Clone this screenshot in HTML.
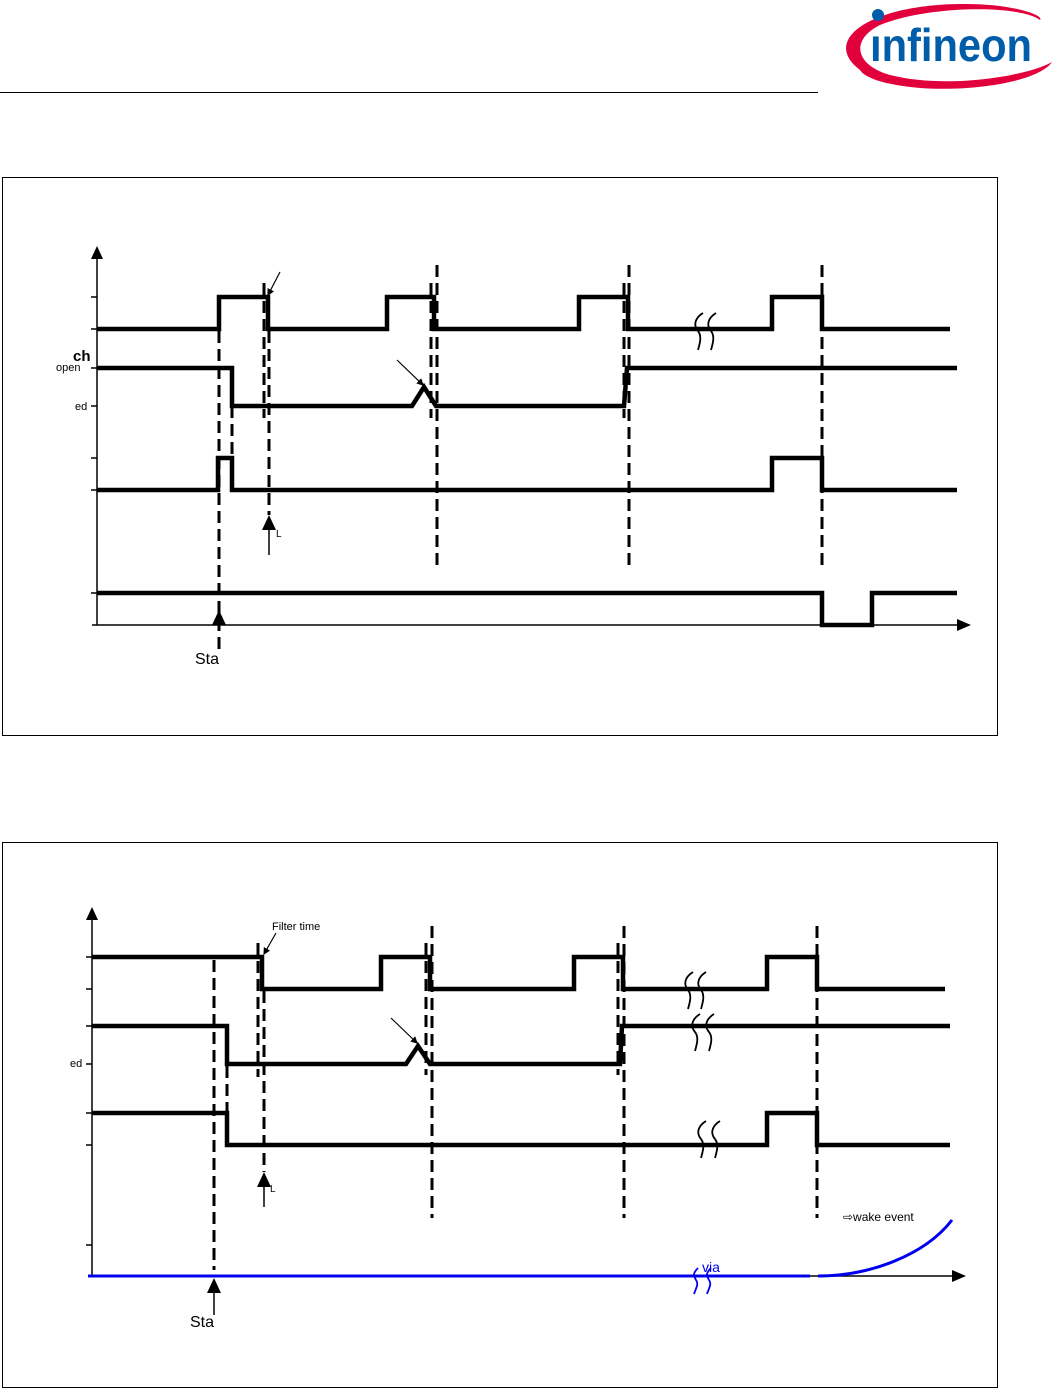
<!DOCTYPE html>
<html><head><meta charset="utf-8"><style>
body{margin:0;background:#fff;width:1062px;height:1388px;overflow:hidden}
svg{display:block}
text{font-family:"Liberation Sans",Arial,sans-serif}
</style></head><body>
<svg width="1062" height="1388" viewBox="0 0 1062 1388">
<defs><marker id="a" markerWidth="6" markerHeight="6" refX="5" refY="3" orient="auto"><path d="M0,0L6,3L0,6z"/></marker></defs>
<!-- header -->
<line x1="0" y1="92.5" x2="818" y2="92.5" stroke="#000" stroke-width="1"/>
<path d="M860,70 C820,40 870,5 960,4 C1010,3 1045,15 1040,20 C1020,5 930,5 880,25 C850,40 855,65 890,75 C950,90 1030,75 1052,62 C1040,80 980,92 920,88 C885,85 865,78 860,70z" fill="#e2003c"/>
<circle cx="878" cy="15" r="6" fill="#005da9"/>
<text x="870" y="61" font-size="46" fill="#005da9" font-weight="bold" textLength="162" lengthAdjust="spacingAndGlyphs" style="font-family:'Liberation Sans Narrow','Liberation Sans',sans-serif">ınfineon</text>

<!-- diagram 1 -->
<rect x="2.5" y="177.5" width="995" height="558" fill="none" stroke="#000"/>
<g stroke="#000" fill="none">
<line x1="97" y1="255" x2="97" y2="625" stroke-width="1.5"/>
<line x1="92" y1="625" x2="960" y2="625" stroke-width="1.5"/>
<g stroke-width="1.5"><line x1="91" y1="297" x2="97" y2="297"/><line x1="91" y1="329" x2="97" y2="329"/><line x1="91" y1="368" x2="97" y2="368"/><line x1="91" y1="406" x2="97" y2="406"/><line x1="91" y1="458" x2="97" y2="458"/><line x1="91" y1="490" x2="97" y2="490"/><line x1="91" y1="593" x2="97" y2="593"/></g>
<g stroke-width="4.5">
<polyline points="97,329 219,329 219,297 268,297 268,329 387,329 387,297 434,297 434,329 579,329 579,297 628,297 628,329 772,329 772,297 822,297 822,329 950,329"/>
<polyline points="97,368 232,368 232,406 412,406 424,387 436,406 624,406 627,368 957,368"/>
<polyline points="97,490 218,490 218,458 232,458 232,490 772,490 772,458 822,458 822,490 957,490"/>
<polyline points="97,593 822,593 822,625 872,625 872,593 957,593"/>
</g>
<g stroke-width="3" stroke-dasharray="12,6">
<line x1="219" y1="331" x2="219" y2="650"/>
<line x1="232" y1="370" x2="232" y2="458"/>
<line x1="264" y1="283" x2="264" y2="418"/>
<line x1="269" y1="331" x2="269" y2="515"/>
<line x1="431" y1="283" x2="431" y2="418"/>
<line x1="437" y1="265" x2="437" y2="565"/>
<line x1="624" y1="283" x2="624" y2="418"/>
<line x1="629" y1="265" x2="629" y2="565"/>
<line x1="822" y1="265" x2="822" y2="565"/>
</g>
<line x1="280" y1="272" x2="268" y2="295" stroke-width="1.2" marker-end="url(#a)"/>
<line x1="397" y1="360" x2="423" y2="385" stroke-width="1.2" marker-end="url(#a)"/>
<line x1="269" y1="530" x2="269" y2="555" stroke-width="1.5"/>
<path d="M703,313 c-8,5 -10,12 -5,18 c4,5 2,12 0,19 M716,313 c-8,5 -10,12 -5,18 c4,5 2,12 0,19" stroke-width="1.8"/>
</g>
<path d="M97,246 L91,259 L103,259z M971,625 L957,619 L957,631z M219,610 L212,625 L226,625z M269,515 L262,530 L276,530z"/>
<text x="73" y="361" font-size="15" font-weight="bold">ch</text>
<text x="56" y="371" font-size="11">open</text>
<text x="75" y="410" font-size="11">ed</text>
<text x="195" y="664" font-size="16">Sta</text>
<text x="276" y="537" font-size="10">L</text>

<!-- diagram 2 -->
<rect x="2.5" y="842.5" width="995" height="545" fill="none" stroke="#000"/>
<g stroke="#000" fill="none">
<line x1="92" y1="915" x2="92" y2="1276" stroke-width="1.5"/>
<line x1="810" y1="1276" x2="955" y2="1276" stroke-width="1.5"/>
<g stroke-width="1.5"><line x1="86" y1="957" x2="92" y2="957"/><line x1="86" y1="989" x2="92" y2="989"/><line x1="86" y1="1026" x2="92" y2="1026"/><line x1="86" y1="1064" x2="92" y2="1064"/><line x1="86" y1="1113" x2="92" y2="1113"/><line x1="86" y1="1145" x2="92" y2="1145"/><line x1="86" y1="1245" x2="92" y2="1245"/></g>
<g stroke-width="4.5">
<polyline points="92,957 262,957 262,989 381,989 381,957 430,957 430,989 574,989 574,957 623,957 623,989 767,989 767,957 817,957 817,989 945,989"/>
<polyline points="92,1026 227,1026 227,1064 406,1064 418,1046 430,1064 620,1064 622,1026 950,1026"/>
<polyline points="92,1113 227,1113 227,1145 767,1145 767,1113 817,1113 817,1145 950,1145"/>
</g>
<g stroke-width="3" stroke-dasharray="12,6">
<line x1="214" y1="960" x2="214" y2="1270"/>
<line x1="227" y1="1066" x2="227" y2="1145"/>
<line x1="258" y1="943" x2="258" y2="1077"/>
<line x1="264" y1="991" x2="264" y2="1172"/>
<line x1="426" y1="943" x2="426" y2="1075"/>
<line x1="432" y1="926" x2="432" y2="1218"/>
<line x1="618" y1="943" x2="618" y2="1075"/>
<line x1="624" y1="926" x2="624" y2="1218"/>
<line x1="817" y1="926" x2="817" y2="1218"/>
</g>
<line x1="276" y1="933" x2="264" y2="954" stroke-width="1.2" marker-end="url(#a)"/>
<line x1="391" y1="1018" x2="417" y2="1043" stroke-width="1.2" marker-end="url(#a)"/>
<line x1="264" y1="1187" x2="264" y2="1207" stroke-width="1.5"/>
<line x1="214" y1="1293" x2="214" y2="1315" stroke-width="1.5"/>
<path d="M693,972 c-8,5 -10,12 -5,18 c4,5 2,12 0,19 M706,972 c-8,5 -10,12 -5,18 c4,5 2,12 0,19" stroke-width="1.8"/>
<path d="M700,1014 c-8,5 -10,12 -5,18 c4,5 2,12 0,19 M714,1014 c-8,5 -10,12 -5,18 c4,5 2,12 0,19" stroke-width="1.8"/>
<path d="M706,1121 c-8,5 -10,12 -5,18 c4,5 2,12 0,19 M720,1121 c-8,5 -10,12 -5,18 c4,5 2,12 0,19" stroke-width="1.8"/>
</g>
<g stroke="#0000ee" fill="none">
<line x1="88" y1="1276" x2="810" y2="1276" stroke-width="3"/>
<path d="M818,1276 C870,1276 925,1255 952,1220" stroke-width="3"/>
<path d="M698,1268 c-6,6 -4,8 -2,12 c3,4 0,8 -2,14 M711,1268 c-6,6 -4,8 -2,12 c3,4 0,8 -2,14" stroke-width="1.8"/>
</g>
<path d="M92,907 L86,920 L98,920z M966,1276 L952,1270 L952,1282z M214,1278 L207,1293 L221,1293z M264,1172 L257,1187 L271,1187z"/>
<text x="272" y="930" font-size="11">Filter time</text>
<text x="70" y="1067" font-size="11">ed</text>
<text x="190" y="1327" font-size="16">Sta</text>
<text x="270" y="1192" font-size="10">L</text>
<text x="843" y="1221" font-size="12">⇨wake event</text>
<text x="702" y="1272" font-size="14" fill="#0000ee">via</text>
</svg>
</body></html>
